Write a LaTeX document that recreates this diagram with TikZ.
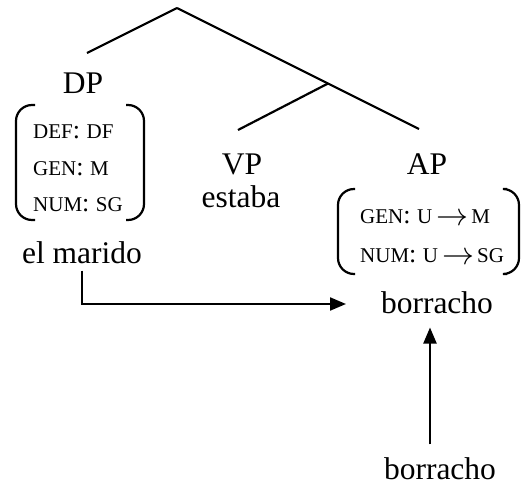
\documentclass[tikz,border=0pt]{standalone}
\usepackage{fontspec}
\usepackage{graphicx}
\setmainfont{Liberation Serif}
\usetikzlibrary{arrows.meta}

\newcommand{\fsc}[1]{{\fontsize{21}{21}\selectfont #1}}
\newcommand{\farr}{\kern4pt\raisebox{-2pt}{\resizebox{32pt}{!}{$\rightarrow$}}\kern3pt}

\begin{document}
\begin{tikzpicture}[x=1pt,y=-1pt,
	lbl/.style={anchor=base,inner sep=0pt,font=\fontsize{31.5}{36}\selectfont},
	feat/.style={anchor=base west,inner sep=0pt,font=\fontsize{26}{30}\selectfont},
	branch/.style={line width=2.2pt},
	paren/.style={line width=2.2pt,rounded corners=16pt},
	arr/.style={line width=2.2pt,-{Triangle[length=16pt,width=13pt]}}]
	
	\useasboundingbox (0,0) rectangle (522,485);
	
	\coordinate (root) at (177,8);
	\coordinate (jn) at (328,83.5);
	\coordinate (dpend) at (87,53);
	\coordinate (vpend) at (238,130);
	\coordinate (apend) at (419,129);
	
	\node[lbl] (dp) at (83,93)      {DP};
	\node[lbl] (vp) at (242,174)    {VP};
	\node[lbl] (estaba) at (241,207) {estaba};
	\node[lbl] (ap) at (427,174)    {AP};
	
	\node[feat] (def) at (33,138)   {\fsc{DEF}: \fsc{DF}};
	\node[feat] (gen) at (33,175)   {\fsc{GEN}: \fsc{M}};
	\node[feat] (num) at (33,211)   {\fsc{NUM}: \fsc{SG}};
	
	\node[feat] (agen) at (360,223) {\fsc{GEN}: \fsc{U}\farr\fsc{M}};
	\node[feat] (anum) at (360,262) {\fsc{NUM}: \fsc{U}\farr\fsc{SG}};
	
	\node[lbl] (marido) at (82,263)  {el marido};
	\node[lbl] (bortop) at (437,313) {borracho};
	\node[lbl] (borlow) at (440,479) {borracho};
	
	\coordinate (tipa) at (346,304);
	
	% tree
	\path[branch] (root) edge (dpend);
	\path[branch] (root) edge (apend);
	\path[branch] (jn) edge (vpend);
	
	% brackets
	\draw[paren] (35,105) -- (16,105) -- (16,220) -- (35,220);
	\draw[paren] (126,105) -- (144,105) -- (144,220) -- (126,220);
	\draw[paren] (355,189) -- (338,189) -- (338,274) -- (355,274);
	\draw[paren] (507,189) -- (519,189) -- (519,274) -- (507,274);
	
	% arrows
	\draw[arr] ([yshift=-7pt]marido.south) |- (tipa);
	\draw[arr] ([xshift=-10pt,yshift=12.5pt]borlow.north) -- ([xshift=-7pt,yshift=-14pt]bortop.south);
	
\end{tikzpicture}
\end{document}
